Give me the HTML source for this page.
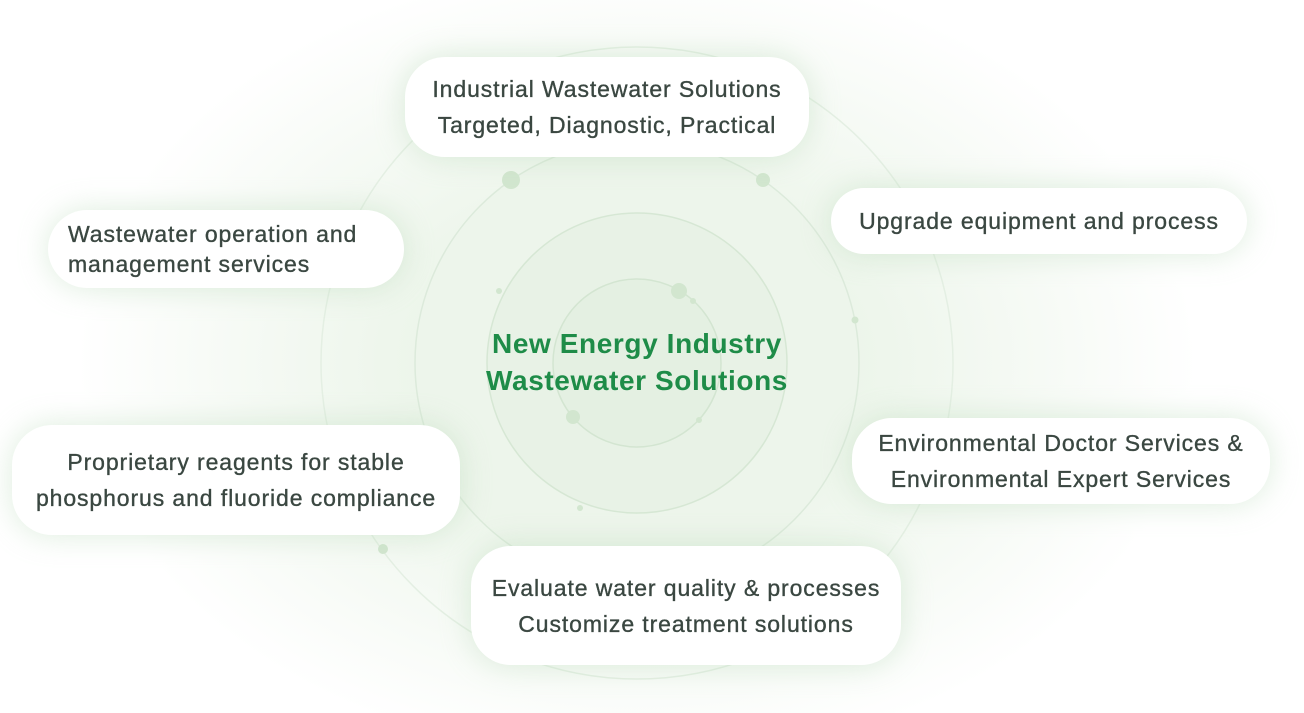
<!DOCTYPE html>
<html><head><meta charset="utf-8"><style>
html,body{margin:0;padding:0;}
body{width:1304px;height:713px;overflow:hidden;background:#fff;position:relative;font-family:"Liberation Sans","Noto Sans CJK SC",sans-serif;}
.bg{position:absolute;inset:0;background:radial-gradient(ellipse 560px 400px at 637px 363px,#e3efe0 0%,#eef6ec 45%,#f6faf5 72%,#fff 100%);border-radius:14px;}
.box{position:absolute;background:#fff;border-radius:40px;box-shadow:0 0 30px rgba(180,215,180,.45);color:#3a4741;font-size:23px;letter-spacing:0.9px;-webkit-text-stroke:0.35px #3a4741;line-height:36px;text-align:center;display:flex;flex-direction:column;justify-content:center;white-space:nowrap;}
.c{position:absolute;left:400px;width:474px;top:325px;text-align:center;color:#1e8c48;font-weight:bold;font-size:28px;letter-spacing:0.6px;line-height:37px;}
</style></head><body>
<div class="bg"></div>
<svg width="1304" height="713" style="position:absolute;left:0;top:0">
<circle cx="637" cy="363" r="316" fill="none" stroke="#e4efe3" stroke-width="1.5"/>
<circle cx="637" cy="363" r="222" fill="#edf5eb" stroke="#dceadb" stroke-width="1.5"/>
<circle cx="637" cy="363" r="150" fill="#e8f2e6" stroke="#d6e7d4" stroke-width="1.5"/>
<circle cx="637" cy="363" r="84" fill="#e4f0e2" stroke="#d3e5d1" stroke-width="1.5"/>
<g fill="#d2e6cf">
<circle cx="511" cy="180" r="9"/><circle cx="763" cy="180" r="7"/><circle cx="679" cy="291" r="8"/>
<circle cx="693" cy="301" r="3"/><circle cx="499" cy="291" r="3"/><circle cx="855" cy="320" r="3.5"/>
<circle cx="573" cy="417" r="7"/><circle cx="699" cy="420" r="3"/><circle cx="580" cy="508" r="3"/>
<circle cx="383" cy="549" r="5"/></g>
</svg>
<div class="c">New Energy Industry<br>Wastewater Solutions</div>
<div class="box" style="left:405px;top:57px;width:404px;height:100px;">Industrial Wastewater Solutions<br>Targeted, Diagnostic, Practical</div>
<div class="box" style="left:831px;top:188px;width:416px;height:66px;">Upgrade equipment and process</div>
<div class="box" style="left:48px;top:210px;width:356px;height:78px;line-height:30px;text-align:left;padding-left:20px;box-sizing:border-box;">Wastewater operation and<br>management services</div>
<div class="box" style="left:12px;top:425px;width:448px;height:110px;">Proprietary reagents for stable<br>phosphorus and fluoride compliance</div>
<div class="box" style="left:852px;top:418px;width:418px;height:86px;">Environmental Doctor Services &amp;<br>Environmental Expert Services</div>
<div class="box" style="left:471px;top:546px;width:430px;height:119px;">Evaluate water quality &amp; processes<br>Customize treatment solutions</div>
</body></html>
